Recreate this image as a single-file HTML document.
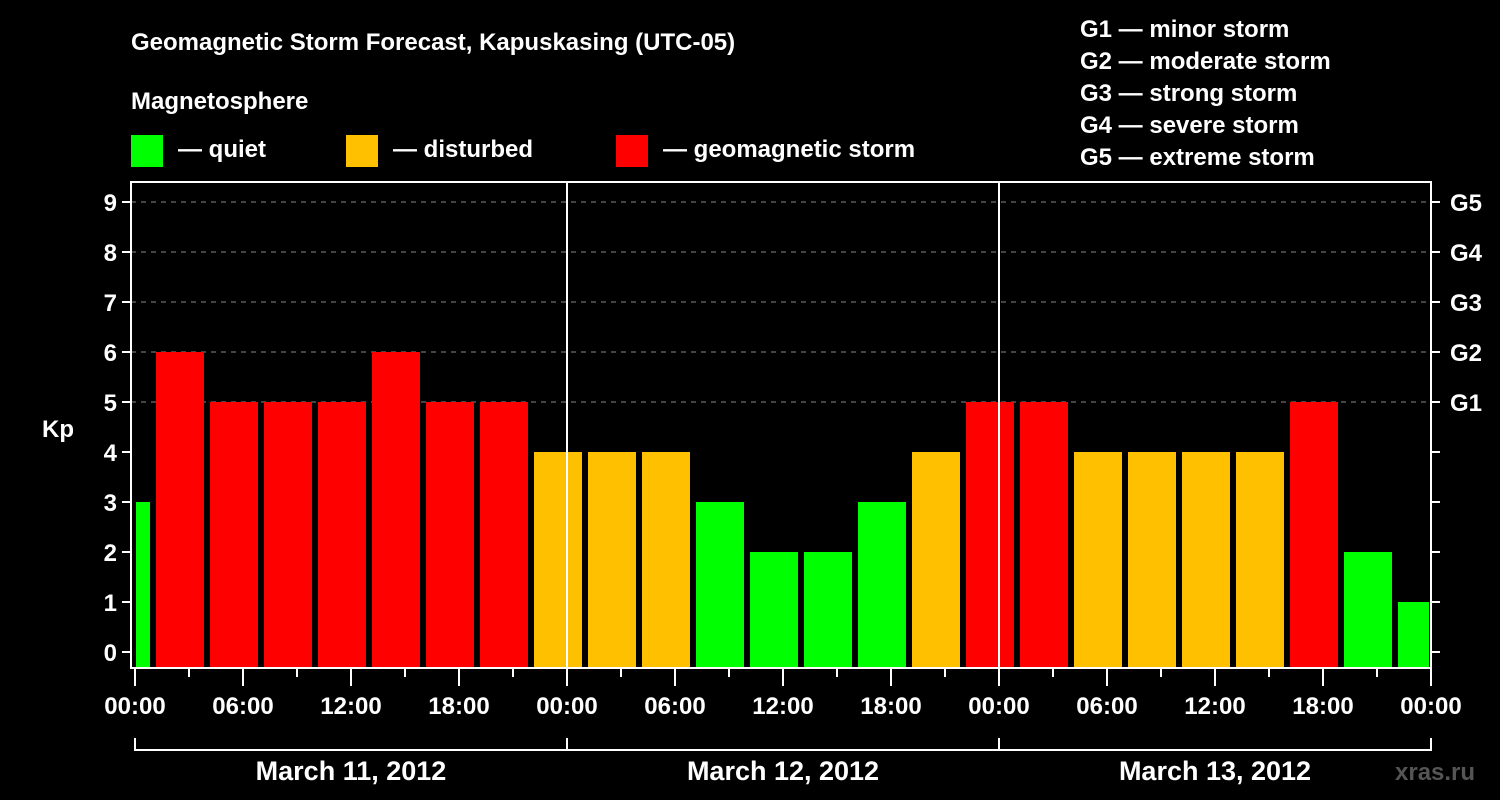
<!DOCTYPE html>
<html><head><meta charset="utf-8"><style>
body{margin:0;background:#000;}
svg{display:block;font-family:"Liberation Sans",Arial,sans-serif;font-weight:bold;}
</style></head><body>
<svg id="c" width="1500" height="800" viewBox="0 0 1500 800">
<rect x="0" y="0" width="1500" height="800" fill="#000"/>
<text x="131" y="50" fill="#fff" font-size="24">Geomagnetic Storm Forecast, Kapuskasing (UTC-05)</text>
<text x="131" y="109" fill="#fff" font-size="24">Magnetosphere</text>
<g><rect x="131" y="135" width="32" height="32" fill="#00ff00"/><text x="178" y="157" fill="#fff" font-size="24">— quiet</text></g>
<g><rect x="346" y="135" width="32" height="32" fill="#ffc000"/><text x="393" y="157" fill="#fff" font-size="24">— disturbed</text></g>
<g><rect x="616" y="135" width="32" height="32" fill="#ff0000"/><text x="663" y="157" fill="#fff" font-size="24">— geomagnetic storm</text></g>
<g fill="#fff" font-size="24">
<text x="1080" y="37">G1 — minor storm</text>
<text x="1080" y="69">G2 — moderate storm</text>
<text x="1080" y="101">G3 — strong storm</text>
<text x="1080" y="133">G4 — severe storm</text>
<text x="1080" y="165">G5 — extreme storm</text>
</g>
<g id="plot"></g>
<text x="1395" y="780" fill="#555" font-size="24">xras.ru</text>
</svg>
<script>
const kpValues=[3,6,5,5,5,6,5,5,4,4,4,3,2,2,3,4,5,5,4,4,4,4,5,2,1];
const yTicks=[0,1,2,3,4,5,6,7,8,9];
const gLabels=["G1","G2","G3","G4","G5"];
const xTickLabels=["00:00","06:00","12:00","18:00","00:00","06:00","12:00","18:00","00:00","06:00","12:00","18:00","00:00"];
const dayLabels=["March 11, 2012","March 12, 2012","March 13, 2012"];
const utcOffset=-5;
const L=131,R=1431,T=182,B=668,X0=135,PXH=18;
const y=v=>652-v*50;
const x=h=>X0+h*PXH;
const ns="http://www.w3.org/2000/svg";
const g=document.getElementById('plot');
function mk(t,a,p){const e=document.createElementNS(ns,t);for(const k in a)e.setAttribute(k,a[k]);(p||g).appendChild(e);return e;}
// gridlines
yTicks.forEach(v=>{if(v>=5){const l=mk('line',{x1:L,x2:R,y1:y(v),y2:y(v),stroke:'#888','stroke-dasharray':'5,5','stroke-width':1});

}});
// bars
kpValues.forEach((v,i)=>{
  const h0=i*3+utcOffset+3;
  let x1=Math.max(x(h0)+3,136),x2=Math.min(x(h0+3)-3,1429);
  if(x2<=x1)return;
  const col=v>=5?'#ff0000':(v>=4?'#ffc000':'#00ff00');
  const r=mk('rect',{x:x1,y:y(v),width:x2-x1,height:B-y(v),fill:col});
  
  
});
// day separators
[1,2].forEach(d=>{const l=mk('line',{x1:x(24*d),x2:x(24*d),y1:T,y2:B,stroke:'#fff','stroke-width':2});

});
// frame
const f=mk('rect',{x:L,y:T,width:R-L,height:B-T,fill:'none',stroke:'#fff','stroke-width':2});


// y ticks
yTicks.forEach(v=>{
  mk('line',{x1:L-9,x2:L,y1:y(v),y2:y(v),stroke:'#fff','stroke-width':2});
  mk('line',{x1:R,x2:R+9,y1:y(v),y2:y(v),stroke:'#fff','stroke-width':2});
  const t=mk('text',{x:L-14,y:y(v)+9,fill:'#fff','font-size':24,'text-anchor':'end'});t.textContent=v;
  
  
});
gLabels.forEach((s,i)=>{const t=mk('text',{x:1450,y:y(5+i)+9,fill:'#fff','font-size':24});t.textContent=s;

});
const yt=mk('text',{x:42,y:437,fill:'#fff','font-size':24});yt.textContent='Kp';


// x ticks
for(let h=0;h<=72;h+=3){mk('line',{x1:x(h),x2:x(h),y1:B,y2:h%6==0?686:677,stroke:'#fff','stroke-width':2});}
xTickLabels.forEach((s,i)=>{const t=mk('text',{x:x(i*6),y:714,fill:'#fff','font-size':24,'text-anchor':'middle'});t.textContent=s;

});
// day brackets
dayLabels.forEach((s,i)=>{
  const a=x(24*i),b=x(24*(i+1));
  mk('path',{d:`M${a},738V750H${b}V738`,fill:'none',stroke:'#fff','stroke-width':2});
  const t=mk('text',{x:(a+b)/2,y:780,fill:'#fff','font-size':27,'text-anchor':'middle'});t.textContent=s;
  
  
});
</script>
</body></html>
